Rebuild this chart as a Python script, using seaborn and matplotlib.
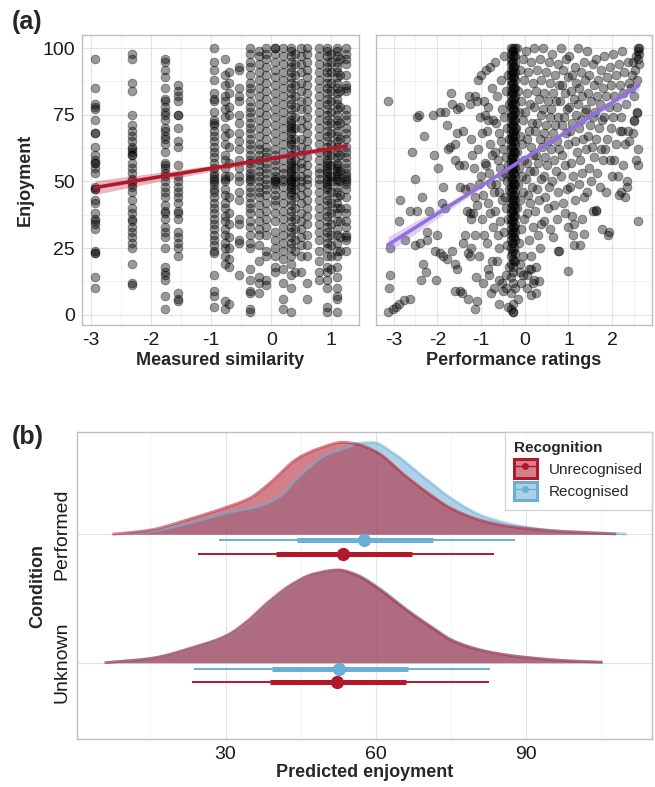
import numpy as np
import pandas as pd
import matplotlib
matplotlib.use("Agg")
import matplotlib.pyplot as plt
from matplotlib.patches import Patch
from matplotlib.lines import Line2D
import seaborn as sns

# ---------------- DATA ----------------
# Panel (a) left: measured similarity columns -> enjoyment values
similarity_columns = {
    -2.93: [96, 85, 79, 78, 77, 73, 68, 68, 63, 60, 58, 57, 57, 55, 53, 48, 47, 47, 43, 42, 38, 36, 35, 34, 32, 24, 23, 23, 14, 10],
    -2.31: [98, 96, 87, 84, 75, 71, 69, 67, 65, 63, 62, 61, 60, 60, 57, 55, 53, 51, 50, 49, 48, 46, 43, 40, 38, 36, 35, 33, 31, 29, 27, 25, 19, 12, 11],
    -1.77: [96, 95, 92, 89, 85, 81, 80, 78, 76, 75, 73, 70, 69, 67, 66, 64, 61, 57, 56, 55, 53, 52, 50, 48, 46, 44, 41, 39, 38, 36, 33, 31, 29, 25, 18, 16, 15, 13, 7, 2],
    -1.56: [86, 84, 82, 80, 75, 75, 70, 65, 63, 56, 52, 50, 48, 46, 44, 42, 39, 38, 36, 31, 29, 27, 25, 22, 8, 6, 5],
    -0.95: [100, 95, 92, 88, 83, 81, 80, 76, 73, 72, 71, 69, 67, 65, 63, 61, 59, 57, 55, 53, 52, 51, 50, 49, 47, 46, 44, 42, 40, 38, 36, 34, 32, 30, 28, 26, 24, 23, 15, 9, 7, 3],
    -0.77: [96, 90, 86, 82, 80, 77, 74, 70, 67, 64, 60, 58, 55, 52, 51, 50, 47, 45, 42, 40, 37, 35, 32, 30, 27, 25, 22, 19, 5, 2],
    -0.70: [91, 87, 83, 78, 75, 68, 63, 57, 52, 44, 38, 34, 29, 25, 21, 18, 4],
    -0.53: [93, 92, 85, 82, 80, 75, 72, 68, 65, 62, 58, 55, 52, 50, 46, 43, 36, 34, 28, 27, 15],
    -0.36: [100, 98, 95, 93, 90, 87, 85, 83, 80, 78, 76, 74, 72, 70, 68, 66, 64, 62, 60, 58, 57, 55, 53, 52, 51, 50, 48, 46, 44, 42, 40, 38, 35, 33, 30, 27, 25, 17, 13, 9, 8, 2, 1],
    -0.20: [99, 97, 94, 91, 88, 85, 82, 79, 76, 73, 70, 67, 64, 62, 60, 58, 56, 54, 52, 50, 48, 46, 44, 41, 38, 35, 32, 30, 26, 20, 14, 12, 8],
    -0.08: [100, 98, 96, 93, 90, 87, 84, 81, 78, 75, 72, 69, 66, 63, 61, 59, 57, 55, 53, 51, 49, 47, 45, 42, 39, 36, 33, 30, 24, 22, 13, 11],
    0.07: [100, 100, 98, 95, 92, 89, 86, 83, 80, 77, 74, 71, 68, 65, 62, 60, 58, 56, 54, 52, 51, 50, 50, 49, 47, 45, 43, 41, 38, 35, 31, 28, 25, 22, 18, 16],
    0.20: [100, 97, 94, 91, 88, 85, 82, 79, 76, 73, 70, 67, 64, 61, 58, 55, 53, 51, 50, 48, 45, 42, 39, 36, 33, 30, 27, 24, 21, 17, 12, 6, 2],
    0.33: [100, 99, 97, 95, 93, 91, 89, 87, 85, 83, 81, 79, 77, 75, 73, 72, 71, 70, 69, 68, 66, 65, 64, 62, 60, 58, 57, 56, 55, 54, 53, 52, 51, 50, 50, 49, 48, 47, 46, 45, 43, 41, 39, 37, 35, 33, 31, 29, 27, 25, 22, 19, 15, 10, 1],
    0.40: [98, 94, 90, 86, 82, 78, 74, 70, 66, 62, 58, 55, 52, 50, 47, 44, 40, 36, 32, 28, 24, 16],
    0.50: [100, 97, 94, 91, 87, 84, 80, 77, 73, 70, 66, 63, 60, 57, 55, 52, 50, 48, 45, 42, 38, 35, 32, 29, 26, 22, 16],
    0.60: [100, 98, 95, 92, 89, 86, 83, 80, 77, 74, 71, 68, 65, 62, 59, 56, 53, 51, 49, 46, 43, 40, 37, 34, 30, 26, 22, 12, 6],
    0.80: [100, 97, 94, 91, 88, 85, 82, 79, 76, 73, 70, 67, 64, 61, 58, 55, 53, 51, 49, 46, 43, 40, 37, 34, 31, 28, 24, 20, 16, 13],
    0.92: [100, 99, 97, 95, 93, 91, 89, 87, 85, 83, 81, 79, 77, 75, 73, 71, 69, 67, 65, 63, 61, 60, 58, 57, 56, 55, 54, 53, 52, 51, 50, 49, 48, 47, 45, 43, 41, 39, 37, 35, 33, 31, 29, 27, 25, 22, 18, 16, 13, 10, 3, 1],
    1.00: [98, 95, 91, 87, 84, 80, 76, 72, 68, 64, 60, 56, 52, 50, 46, 42, 38, 34, 30, 26, 22, 17],
    1.10: [100, 99, 97, 95, 93, 91, 89, 87, 85, 83, 81, 79, 77, 75, 73, 71, 69, 67, 65, 63, 61, 59, 57, 56, 55, 54, 53, 52, 51, 50, 48, 46, 44, 42, 40, 38, 35, 32, 30, 27, 24, 22, 18, 14, 10, 7, 6, 1],
    1.15: [96, 90, 84, 78, 72, 66, 60, 54, 50, 45, 40, 35, 29, 24],
    1.25: [100, 98, 96, 94, 90, 86, 85, 84, 77, 75, 73, 70, 68, 66, 63, 61, 59, 57, 55, 53, 52, 51, 50, 49, 47, 44, 40, 38, 35, 33, 30, 29, 28, 24],
}

# Panel (a) right: performance ratings vs enjoyment
perf_strip = {  # dense column of identical ratings
    -0.31: [100, 98, 96, 94, 92, 90, 88, 86, 84, 82, 80, 78, 76, 74, 72, 70, 68, 66, 64, 62, 60, 58, 56, 54, 52, 50, 48, 46, 44, 42, 40, 38, 36, 34, 32, 30, 28, 25, 22, 19, 14, 8, 2],
    -0.29: [99, 95, 91, 87, 83, 79, 75, 71, 67, 63, 59, 55, 51, 47, 43, 39, 35, 31, 27, 23],
    -0.27: [100, 99, 97, 95, 93, 91, 89, 87, 85, 83, 81, 79, 77, 75, 73, 71, 69, 67, 65, 63, 61, 59, 57, 55, 53, 51, 49, 47, 45, 43, 41, 39, 37, 35, 33, 31, 29, 27, 24, 21, 18, 16, 12, 4, 1, 1],
    -0.25: [97, 93, 89, 85, 81, 77, 73, 69, 65, 61, 57, 53, 49, 45, 41, 37, 33, 29, 25, 20],
    -0.23: [100, 97, 94, 91, 88, 85, 82, 79, 76, 73, 70, 67, 64, 61, 58, 55, 52, 49, 46, 43, 40, 37, 34, 31, 28, 23, 20, 10],
}
perf_points = [
    (-3.13, 80), (-3.08, 25), (-3.08, 15), (-3.1, 10), (-3.13, 1), (-3.02, 2), (-2.95, 3), (-2.88, 4), (-2.77, 5.5), (-2.62, 6),
    (-2.85, 43), (-2.87, 35), (-2.73, 28), (-2.62, 39), (-2.47, 39), (-2.2, 39), (-2.58, 61), (-2.51, 51), (-2.36, 44), (-2.46, 74),
    (-2.43, 75), (-2.3, 67), (-2.5, 26), (-2.39, 27), (-2.33, 19), (-2.26, 16), (-2.37, 13), (-2.24, 31), (-2.24, 28), (-2.07, 60),
    (-2.03, 13), (-2.05, 24), (-2.01, 30), (-1.98, 55), (-2.09, 75), (-1.94, 76), (-1.82, 76), (-1.69, 83), (-1.67, 79), (-1.77, 71),
    (-1.76, 62), (-1.71, 63), (-1.6, 64), (-1.9, 42), (-1.82, 40), (-1.86, 48), (-1.94, 23), (-1.86, 22), (-1.79, 21), (-1.67, 24),
    (-1.6, 19), (-1.56, 17), (-1.6, 9), (-1.48, 9), (-1.43, 8), (-1.56, 77), (-1.48, 78), (-1.54, 68), (-1.41, 69), (-1.6, 58),
    (-1.5, 56), (-1.39, 56), (-1.48, 48), (-1.37, 47), (-1.41, 27), (-1.37, 30), (-1.33, 39), (-1.26, 38), (-1.22, 36), (-1.3, 23),
    (-1.26, 22), (-1.3, 6), (-1.26, 79), (-1.14, 82), (-1.1, 80), (-1.14, 2), (-1.1, 5), (-1.0, 90), (-0.8, 93), (-0.92, 75),
    (-0.85, 73),
    (-1.28, 82), (-1.24, 66), (-1.21, 60), (-1.17, 55), (-1.26, 48), (-1.13, 44), (-1.19, 38), (-1.15, 30), (-1.23, 25), (-1.12, 14),
    (-1.08, 88), (-0.94, 80), (-1.02, 74), (-0.97, 68), (-1.06, 62), (-0.92, 57), (-1.0, 52), (-1.05, 49), (-0.95, 45), (-1.09, 41),
    (-0.98, 36), (-0.93, 30), (-1.04, 22), (-0.96, 12),
    (-0.88, 92), (-0.75, 85), (-0.83, 78), (-0.72, 73), (-0.86, 69), (-0.79, 64), (-0.74, 60), (-0.89, 56), (-0.81, 53), (-0.77, 49),
    (-0.71, 46), (-0.85, 42), (-0.8, 38), (-0.73, 33), (-0.87, 27), (-0.76, 20), (-0.82, 15), (-0.78, 8),
    (-0.68, 95), (-0.55, 88), (-0.63, 82), (-0.52, 77), (-0.66, 72), (-0.59, 68), (-0.54, 65), (-0.69, 61), (-0.61, 58), (-0.57, 55),
    (-0.51, 52), (-0.65, 49), (-0.6, 46), (-0.53, 43), (-0.67, 39), (-0.56, 35), (-0.62, 30), (-0.58, 25), (-0.64, 20), (-0.53, 12),
    (-0.6, 4),
    (-0.48, 97), (-0.38, 90), (-0.44, 84), (-0.36, 79), (-0.47, 74), (-0.41, 70), (-0.37, 66), (-0.49, 62), (-0.43, 59), (-0.39, 56),
    (-0.46, 53), (-0.4, 50), (-0.36, 47), (-0.45, 44), (-0.42, 40), (-0.38, 36), (-0.47, 31), (-0.41, 26), (-0.37, 18), (-0.44, 10),
    (-0.39, 3),
    (-0.18, 100), (-0.05, 96), (-0.12, 92), (-0.02, 88), (-0.16, 84), (-0.08, 80), (-0.14, 76), (-0.03, 73), (-0.19, 70), (-0.1, 67),
    (-0.06, 64), (-0.17, 61), (-0.01, 58), (-0.13, 55), (-0.07, 52), (-0.15, 49), (-0.04, 46), (-0.11, 43), (-0.18, 40), (-0.02, 36),
    (-0.09, 32), (-0.14, 27), (-0.05, 22), (-0.12, 16), (-0.08, 12),
    (0.03, 99), (0.15, 95), (0.08, 91), (0.18, 87), (0.05, 83), (0.12, 79), (0.01, 76), (0.17, 72), (0.09, 69), (0.04, 66),
    (0.14, 63), (0.19, 60), (0.06, 57), (0.11, 54), (0.02, 51), (0.16, 48), (0.07, 45), (0.13, 42), (0.04, 38), (0.18, 33),
    (0.1, 28), (0.15, 22), (0.06, 15),
    (0.22, 100), (0.35, 96), (0.28, 92), (0.38, 88), (0.25, 84), (0.32, 81), (0.21, 78), (0.37, 75), (0.29, 72), (0.24, 69),
    (0.34, 66), (0.39, 63), (0.26, 60), (0.31, 57), (0.22, 54), (0.36, 51), (0.27, 47), (0.33, 43), (0.24, 39), (0.38, 34),
    (0.3, 30), (0.35, 25), (0.26, 18),
    (0.42, 100), (0.55, 95), (0.48, 91), (0.58, 87), (0.45, 83), (0.52, 80), (0.41, 77), (0.57, 74), (0.49, 71), (0.44, 68),
    (0.54, 65), (0.59, 62), (0.46, 59), (0.51, 56), (0.43, 52), (0.56, 48), (0.47, 44), (0.53, 40), (0.44, 35), (0.58, 32),
    (0.62, 98), (0.75, 94), (0.68, 90), (0.78, 86), (0.65, 83), (0.72, 80), (0.61, 77), (0.77, 74), (0.69, 71), (0.64, 68),
    (0.74, 65), (0.79, 62), (0.66, 58), (0.71, 54), (0.63, 50), (0.76, 46), (0.67, 41), (0.73, 36), (0.64, 29), (0.78, 24),
    (0.82, 100), (0.95, 96), (0.88, 92), (0.98, 89), (0.85, 86), (0.92, 83), (0.81, 80), (0.97, 77), (0.89, 74), (0.84, 71),
    (0.94, 68), (0.99, 64), (0.86, 60), (0.91, 56), (0.83, 52), (0.96, 47), (0.87, 42), (0.93, 38), (0.98, 33),
    (1.02, 97), (1.15, 93), (1.08, 90), (1.18, 87), (1.05, 84), (1.12, 81), (1.01, 78), (1.17, 75), (1.09, 72), (1.04, 69),
    (1.14, 65), (1.19, 61), (1.06, 57), (1.11, 52), (1.03, 48), (1.16, 43), (1.07, 37), (1.13, 34), (1.1, 30),
    (1.22, 100), (1.35, 95), (1.28, 91), (1.38, 88), (1.25, 85), (1.32, 82), (1.21, 79), (1.37, 76), (1.29, 73), (1.24, 70),
    (1.34, 66), (1.39, 62), (1.26, 58), (1.31, 53), (1.23, 49), (1.36, 44), (1.3, 36), (1.27, 26),
    (1.42, 99), (1.55, 94), (1.48, 90), (1.58, 86), (1.45, 83), (1.52, 80), (1.41, 77), (1.57, 74), (1.49, 71), (1.44, 67),
    (1.54, 63), (1.59, 59), (1.46, 55), (1.51, 50), (1.43, 46), (1.56, 39),
    (1.62, 96), (1.75, 92), (1.68, 88), (1.78, 85), (1.65, 82), (1.72, 79), (1.61, 76), (1.77, 73), (1.69, 70), (1.64, 66),
    (1.74, 62), (1.79, 58), (1.66, 53), (1.71, 48), (1.63, 39), (1.76, 32),
    (1.82, 97), (1.95, 93), (1.88, 89), (1.98, 86), (1.85, 82), (1.92, 78), (1.81, 74), (1.97, 70), (1.89, 66), (1.84, 62),
    (1.94, 58), (1.99, 52), (1.86, 46), (1.91, 30),
    (2.02, 98), (2.15, 94), (2.08, 90), (2.18, 86), (2.05, 82), (2.12, 78), (2.01, 74), (2.17, 69), (2.09, 64), (2.04, 58),
    (2.14, 52), (2.19, 46),
    (2.22, 99), (2.35, 95), (2.28, 91), (2.38, 87), (2.25, 83), (2.32, 79), (2.21, 74), (2.37, 69), (2.29, 64), (2.24, 56),
    (2.34, 48), (2.3, 44),
    (2.61, 100), (2.6, 100), (2.58, 99), (2.61, 98), (2.55, 97), (2.6, 96), (2.48, 95), (2.61, 94), (2.52, 92), (2.45, 90),
    (2.57, 88), (2.42, 85), (2.5, 82), (2.56, 76), (2.49, 73), (2.47, 68), (2.6, 62), (2.54, 58), (2.58, 56), (2.6, 35),
    (2.57, 75.6), (2.49, 72.7), (2.23, 68.8), (2.38, 65), (2.15, 45), (2.34, 50), (1.92, 31), (1.62, 39.4), (1.36, 30.4),
    (1.13, 26), (0.98, 16.5), (0.76, 24), (0.33, 12.5), (0.18, 12), (0.14, 17), (0.14, 7.5), (-0.04, 15), (-0.6, 13),
    (-0.5, 9), (-0.42, 15), (-0.15, 6), (-0.1, 19), (0.05, 10), (0.1, 17), (0.2, 13), (0.25, 8), (-0.7, 10), (-0.85, 17),
]

# Regression fits: x, fitted y, lower and upper CI
sim_fit_x = [-2.93, -2.0, -1.0, 0.0, 0.5, 1.25]
sim_fit_y = [47.7, 51.2, 54.9, 58.6, 60.5, 63.3]
sim_fit_lo = [45.1, 49.4, 53.8, 57.8, 59.7, 62.1]
sim_fit_hi = [50.3, 53.0, 56.0, 59.4, 61.3, 64.5]

perf_fit_x = [-3.13, -2.0, -1.0, 0.0, 1.0, 2.0, 2.61]
perf_fit_y = [26.2, 37.9, 48.3, 58.7, 69.1, 79.6, 86.0]
perf_fit_lo = [23.2, 36.1, 47.4, 58.1, 68.2, 78.2, 84.2]
perf_fit_hi = [29.2, 39.7, 49.2, 59.3, 70.0, 81.0, 87.8]

# Panel (b): posterior densities of predicted enjoyment (relative heights)
conditions = ["Unknown", "Performed"]
recognition = ["Unrecognised", "Recognised"]
perf_unrec_x = [7.4, 15, 22.2, 30, 34.8, 38.8, 43.5, 45, 48.8, 53.4, 56.1, 60, 66.1, 71.4, 75, 80.8, 86.1, 90, 96, 105, 108]
perf_unrec_h = [0, 4.3, 14.3, 26.7, 36, 51, 72.7, 77.7, 86, 92, 90.3, 82.7, 57.7, 37.7, 26, 14.3, 8.3, 6, 3.3, 1, 0.3]
perf_rec_x = [10.7, 15, 22.2, 30, 36.8, 40.8, 45, 50.1, 54.8, 56.1, 59.5, 63.5, 69.4, 75, 80.8, 86.1, 90, 96, 105, 110]
perf_rec_h = [0, 2.7, 10.3, 21, 28.3, 37.7, 59.3, 79.3, 87.7, 90.5, 91.7, 81, 57.7, 36, 19.3, 11, 7, 3.3, 1.3, 0.3]
unk_unrec_x = [5.8, 15, 23.5, 30, 34.2, 38.2, 43.5, 47.5, 52.5, 56.1, 60, 66.1, 71.4, 75, 80.8, 86.1, 90, 98, 105.2]
unk_unrec_h = [0, 4.3, 15.3, 26.7, 41, 59.3, 79.3, 88.7, 92.7, 87.7, 76, 52.7, 34.3, 22.7, 12.7, 7.7, 5.3, 2, 0.5]
unk_rec_x = [6.1, 15.3, 23.8, 30.3, 34.5, 38.5, 43.8, 47.8, 52.8, 56.4, 60.3, 66.4, 71.7, 75.3, 81.1, 86.4, 90.3, 98.3, 105.4]
unk_rec_h = [0, 4.3, 15.3, 26.7, 41, 59.3, 79.3, 88.7, 92.7, 87.7, 76, 52.7, 34.3, 22.7, 12.7, 7.7, 5.3, 2, 0.5]

# Point intervals: median, 66% and 95% intervals
intervals = {
    ("Performed", "Recognised"):   dict(med=57.6, lo66=44.2, hi66=71.4, lo95=28.7, hi95=87.7),
    ("Performed", "Unrecognised"): dict(med=53.5, lo66=40.0, hi66=67.3, lo95=24.5, hi95=83.6),
    ("Unknown", "Recognised"):     dict(med=52.7, lo66=39.2, hi66=66.4, lo95=23.7, hi95=82.8),
    ("Unknown", "Unrecognised"):   dict(med=52.3, lo66=38.8, hi66=66.1, lo95=23.3, hi95=82.6),
}

# ---------------- STYLE ----------------
RED = "#B2182B"
BLUE = "#6BAED6"
PURPLE = "#9370DB"
SPINE = "#BDBDBD"
GRID_MAJ = "#E3E3E3"
GRID_MIN = "#F0F0F0"

sns.set_theme(style="white")
plt.rcParams["font.family"] = ["Liberation Sans", "DejaVu Sans"]
plt.rcParams["axes.unicode_minus"] = False

fig = plt.figure(figsize=(6.55, 7.87), dpi=100)
W, H = 655, 787
ax1 = fig.add_axes([82 / W, 1 - 325 / H, 277 / W, 290 / H])
ax2 = fig.add_axes([375.7 / W, 1 - 325 / H, 276.3 / W, 290 / H])
ax3 = fig.add_axes([77.3 / W, 1 - 739 / H, 575 / W, 306.7 / H])


def style_axes(ax):
    ax.set_facecolor("white")
    for s in ax.spines.values():
        s.set_color(SPINE)
        s.set_linewidth(1.0)
    ax.grid(which="major", color=GRID_MAJ, linewidth=0.8, zorder=0)
    ax.grid(which="minor", color=GRID_MIN, linewidth=0.6, zorder=0)
    ax.set_axisbelow(True)
    ax.tick_params(which="major", length=3, width=0.8, color=SPINE,
                   labelsize=14, labelcolor="#1a1a1a", pad=2)
    ax.tick_params(which="minor", length=0)


PT = dict(color="black", alpha=0.4, s=40, edgecolor="black", linewidth=0.6, zorder=2)

# ---------- Panel (a) left ----------
rows = [(x, y) for x, ys in similarity_columns.items() for y in ys]
df_sim = pd.DataFrame(rows, columns=["similarity", "enjoyment"])
sns.scatterplot(data=df_sim, x="similarity", y="enjoyment", ax=ax1, **PT)
ax1.fill_between(sim_fit_x, sim_fit_lo, sim_fit_hi, color=RED, alpha=0.3, lw=0, zorder=3)
sns.lineplot(x=sim_fit_x, y=sim_fit_y, ax=ax1, color=RED, lw=2.6, zorder=4)
ax1.set_xlim(-3.15, 1.46)
ax1.set_ylim(-3.9, 104.95)
ax1.set_xticks([-3, -2, -1, 0, 1])
ax1.set_xticks([-2.5, -1.5, -0.5, 0.5], minor=True)
ax1.set_yticks([0, 25, 50, 75, 100])
ax1.set_yticks([12.5, 37.5, 62.5, 87.5], minor=True)
style_axes(ax1)
ax1.set_xlabel("Measured similarity", fontsize=13, fontweight="bold", labelpad=2)
ax1.set_ylabel("Enjoyment", fontsize=13, fontweight="bold", labelpad=6)

# ---------- Panel (a) right ----------
prow = [(x, y) for x, ys in perf_strip.items() for y in ys] + list(perf_points)
df_perf = pd.DataFrame(prow, columns=["performance", "enjoyment"])
sns.scatterplot(data=df_perf, x="performance", y="enjoyment", ax=ax2, **PT)
ax2.fill_between(perf_fit_x, perf_fit_lo, perf_fit_hi, color=PURPLE, alpha=0.3, lw=0, zorder=3)
sns.lineplot(x=perf_fit_x, y=perf_fit_y, ax=ax2, color=PURPLE, lw=2.6, zorder=4)
ax2.set_xlim(-3.41, 2.91)
ax2.set_ylim(-3.9, 104.95)
ax2.set_xticks([-3, -2, -1, 0, 1, 2])
ax2.set_xticks([-2.5, -1.5, -0.5, 0.5, 1.5, 2.5], minor=True)
ax2.set_yticks([0, 25, 50, 75, 100])
ax2.set_yticks([12.5, 37.5, 62.5, 87.5], minor=True)
style_axes(ax2)
ax2.tick_params(axis="y", labelleft=False, length=0)
ax2.set_xlabel("Performance ratings", fontsize=13, fontweight="bold", labelpad=2)
ax2.set_ylabel("")


# ---------- Panel (b) ----------
def smooth_curve(xs, ys, n=500):
    xs = np.asarray(xs, float)
    ys = np.asarray(ys, float)
    h = np.diff(xs)
    d = np.diff(ys) / h
    m = np.zeros_like(ys)
    m[0], m[-1] = d[0], d[-1]
    for k in range(1, len(ys) - 1):
        if d[k - 1] * d[k] > 0:
            w1, w2 = 2 * h[k] + h[k - 1], h[k] + 2 * h[k - 1]
            m[k] = (w1 + w2) / (w1 / d[k - 1] + w2 / d[k])
    xf = np.linspace(xs[0], xs[-1], n)
    idx = np.clip(np.searchsorted(xs, xf) - 1, 0, len(xs) - 2)
    t = (xf - xs[idx]) / h[idx]
    h00 = 2 * t**3 - 3 * t**2 + 1
    h10 = t**3 - 2 * t**2 + t
    h01 = -2 * t**3 + 3 * t**2
    h11 = t**3 - t**2
    yf = h00 * ys[idx] + h10 * h[idx] * m[idx] + h01 * ys[idx + 1] + h11 * h[idx] * m[idx + 1]
    return xf, np.clip(yf, 0, None)


SLAB = 1 / 128.4      # relative height -> axis units
OFFSETS = {"Recognised": -0.047, "Unrecognised": -0.151}
COLORS = {"Unrecognised": RED, "Recognised": BLUE}
ypos = {"Unknown": 1, "Performed": 2}
dens = {
    ("Performed", "Recognised"): (perf_rec_x, perf_rec_h),
    ("Performed", "Unrecognised"): (perf_unrec_x, perf_unrec_h),
    ("Unknown", "Recognised"): (unk_rec_x, unk_rec_h),
    ("Unknown", "Unrecognised"): (unk_unrec_x, unk_unrec_h),
}
for cond in conditions:
    base = ypos[cond]
    for rec in ["Recognised", "Unrecognised"]:
        xs, hs = dens[(cond, rec)]
        xf, yf = smooth_curve(xs, hs)
        col = COLORS[rec]
        ax3.fill_between(xf, base, base + yf * SLAB, color=col, alpha=0.55, lw=0, zorder=2)
        ax3.plot(xf, base + yf * SLAB, color=col, alpha=0.55, lw=2.0, zorder=3,
                 solid_capstyle="butt")
    for rec in ["Recognised", "Unrecognised"]:
        iv = intervals[(cond, rec)]
        y = base + OFFSETS[rec]
        col = COLORS[rec]
        ax3.plot([iv["lo95"], iv["hi95"]], [y, y], color=col, lw=1.4, zorder=4,
                 solid_capstyle="butt")
        ax3.plot([iv["lo66"], iv["hi66"]], [y, y], color=col, lw=3.6, zorder=5,
                 solid_capstyle="butt")
        ax3.plot([iv["med"]], [y], marker="o", ms=8.5, color=col, zorder=6, lw=0)

ax3.set_xlim(0.4, 115.2)
ax3.set_ylim(0.406, 2.794)
ax3.set_xticks([30, 60, 90])
ax3.set_xticks([15, 45, 75, 105], minor=True)
ax3.set_yticks([1, 2])
style_axes(ax3)
ax3.set_yticklabels(["Unknown", "Performed"], rotation=90, va="center")
ax3.set_xlabel("Predicted enjoyment", fontsize=13, fontweight="bold", labelpad=1)
ax3.set_ylabel("Condition", fontsize=13, fontweight="bold", labelpad=5)

handles = []
for rec in recognition:
    col = COLORS[rec]
    handles.append((Patch(facecolor=col, alpha=0.55, edgecolor="none"),
                    Patch(facecolor="none", edgecolor=col, lw=2.2),
                    Line2D([], [], color=col, lw=1.0, marker="o", ms=4)))
leg = ax3.legend(handles, recognition, loc="upper right", bbox_to_anchor=(1.0, 1.0),
                 borderaxespad=0, frameon=True, fancybox=False, fontsize=11,
                 title="Recognition", title_fontproperties={"weight": "bold", "size": 11},
                 alignment="left", handlelength=1.5, handleheight=1.5,
                 labelspacing=0.25, borderpad=0.6, handletextpad=0.8)
leg.get_frame().set_edgecolor("#CCCCCC")
leg.get_frame().set_linewidth(1.0)

fig.text(12 / W, 1 - 22 / H, "(a)", fontsize=18, fontweight="bold", va="center", ha="left")
fig.text(12 / W, 1 - 437 / H, "(b)", fontsize=18, fontweight="bold", va="center", ha="left")

fig.savefig("out.png", dpi=100)
